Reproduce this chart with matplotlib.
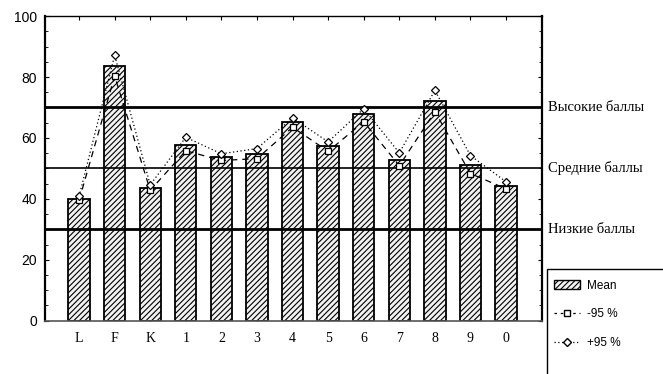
import matplotlib.pyplot as plt
import matplotlib.patches as mpatches
from matplotlib.lines import Line2D
from matplotlib.ticker import MultipleLocator
import numpy as np

categories = ["L", "F", "K", "1", "2", "3", "4", "5", "6", "7", "8", "9", "0"]
mean = [39.8, 83.6, 43.5, 57.8, 53.7, 54.7, 65.1, 57.5, 67.7, 52.9, 72.0, 51.0, 44.3]
lower95 = [39.5, 80.3, 42.8, 55.8, 52.6, 53.2, 63.5, 55.6, 65.3, 50.9, 68.6, 48.3, 43.3]
upper95 = [40.8, 87.1, 44.6, 60.2, 54.8, 56.5, 66.6, 58.7, 69.6, 55.1, 75.6, 54.2, 45.6]

levels = [70, 50, 30]
level_labels = ["Высокие баллы", "Средние баллы", "Низкие баллы"]
level_widths = [2.0, 1.2, 2.0]

plt.rcParams["hatch.linewidth"] = 0.8
fig = plt.figure(figsize=(6.63, 3.74), dpi=100)
ax = fig.add_axes([0.068, 0.1425, 0.7495, 0.8145])

x = np.arange(len(categories))
ax.bar(x, mean, width=0.6, color="#f2f2f2", edgecolor="black", linewidth=1.3,
       hatch="//////", zorder=2)
ax.plot(x, lower95, linestyle=(0, (5, 4)), color="black", linewidth=0.9,
        marker="s", markersize=5, markerfacecolor="white", markeredgecolor="black",
        markeredgewidth=0.9, zorder=4)
ax.plot(x, upper95, linestyle=(0, (1, 2)), color="black", linewidth=0.9,
        marker="D", markersize=4.5, markerfacecolor="white", markeredgecolor="black",
        markeredgewidth=0.9, zorder=4)

for lv, lab, lw in zip(levels, level_labels, level_widths):
    ax.axhline(lv, color="black", linewidth=lw, zorder=3)
    ax.text(1.012, lv, lab, transform=ax.get_yaxis_transform(), va="center",
            ha="left", fontsize=10.5, family="Liberation Serif", clip_on=False)

ax.set_xlim(-0.955, 13.01)
ax.set_ylim(0, 100)
ax.set_xticks(x)
ax.set_xticklabels(categories, family="Liberation Serif", fontsize=10)
ax.set_yticks([0, 20, 40, 60, 80, 100])
ax.yaxis.set_minor_locator(MultipleLocator(5))
ax.tick_params(axis="y", labelsize=10, direction="in", right=True, length=3, pad=6)
ax.tick_params(axis="y", which="minor", direction="in", right=True, length=2)
ax.tick_params(axis="x", direction="in", top=True, length=3, pad=8)
for t in ax.get_yticklabels():
    t.set_family("Liberation Sans")
for s in ["left", "right"]:
    ax.spines[s].set_linewidth(1.6)
ax.spines["top"].set_linewidth(1.0)
ax.spines["bottom"].set_linewidth(1.2)
ax.spines["bottom"].set_color("#555555")

# legend box running off the right edge
fig.patches.append(mpatches.Rectangle((547 / 663, 1 - 380 / 374), 0.3, (380 - 269) / 374,
                                      transform=fig.transFigure, fill=False,
                                      edgecolor="black", linewidth=1.0))
handles = [
    mpatches.Patch(facecolor="#f2f2f2", edgecolor="black", hatch="//////", linewidth=1.0),
    Line2D([], [], linestyle=(0, (2, 3)), color="black", linewidth=0.9, marker="s",
           markersize=5, markerfacecolor="white", markeredgecolor="black"),
    Line2D([], [], linestyle=(0, (1, 2)), color="black", linewidth=0.9, marker="D",
           markersize=4.5, markerfacecolor="white", markeredgecolor="black"),
]
fig.legend(handles, ["Mean", "-95 %", "+95 %"], loc="upper left",
           bbox_to_anchor=(549 / 663, 1 - 275 / 374), frameon=False,
           prop={"family": "Liberation Sans", "size": 8.5}, handlelength=2.2,
           handletextpad=0.6, labelspacing=1.4, borderaxespad=0)

fig.savefig("out.png", dpi=100)
